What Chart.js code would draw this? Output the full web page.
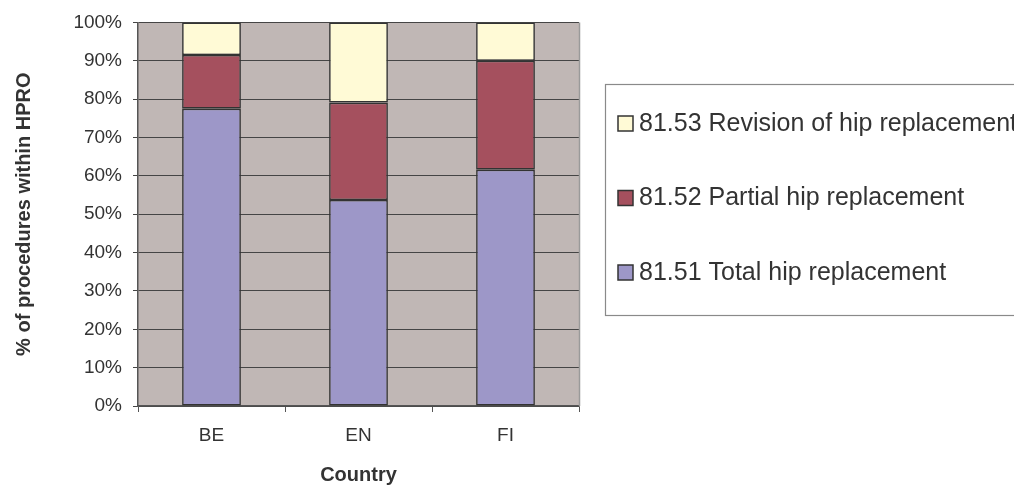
<!DOCTYPE html>
<html>
<head>
<meta charset="utf-8">
<script src="https://cdn.jsdelivr.net/npm/chart.js@4/dist/chart.umd.min.js"></script>
<style>
  html, body { margin: 0; padding: 0; background: #ffffff; }
  #wrap { width: 1014px; height: 488px; position: relative; }
</style>
</head>
<body>
<div id="wrap"><canvas id="chart" width="1014" height="488"></canvas></div>
<script>
// Share of hip procedures by country (percent of all procedures within HPRO)
const countries = ['BE', 'EN', 'FI'];
const totalHip = [77.5, 53.7, 61.6];     // 81.51 Total hip replacement
const partialHip = [14.0, 25.4, 28.4];   // 81.52 Partial hip replacement
const revisionHip = [8.5, 20.9, 10.0];   // 81.53 Revision of hip replacement
const seriesNames = [
  '81.51 Total hip replacement',
  '81.52 Partial hip replacement',
  '81.53 Revision of hip replacement'
];
const yTicks = [0, 10, 20, 30, 40, 50, 60, 70, 80, 90, 100];

const FONT = "'Liberation Sans', Arial, sans-serif";
const TEXT = '#333333';
const EDGE = '#333333';

// Grey plotting area with a light right edge
const plotBackground = {
  id: 'plotBackground',
  beforeDraw(chart) {
    const { ctx, chartArea: a } = chart;
    ctx.save();
    ctx.fillStyle = '#c0b7b5';
    ctx.fillRect(a.left, a.top, a.right - a.left, a.bottom - a.top);
    ctx.restore();
  },
  afterDatasetsDraw(chart) {
    const { ctx, chartArea: a } = chart;
    ctx.save();
    ctx.strokeStyle = '#9a9a9a';
    ctx.lineWidth = 1.5;
    ctx.beginPath();
    ctx.moveTo(a.right + 0.5, a.top);
    ctx.lineTo(a.right + 0.5, a.bottom);
    ctx.stroke();
    ctx.restore();
  }
};

// Boxed legend to the right of the plot, top series listed first
const boxedLegend = {
  id: 'boxedLegend',
  afterDraw(chart) {
    const { ctx } = chart;
    const box = { x: 605.5, y: 84.5, w: 420, h: 231 };
    ctx.save();
    ctx.strokeStyle = '#8a8a8a';
    ctx.lineWidth = 1.2;
    ctx.strokeRect(box.x, box.y, box.w, box.h);
    const rows = [123, 197.5, 272];
    const order = [2, 1, 0];
    ctx.font = '25px ' + FONT;
    ctx.textBaseline = 'middle';
    ctx.textAlign = 'left';
    order.forEach((di, i) => {
      const ds = chart.data.datasets[di];
      const cy = rows[i];
      ctx.fillStyle = ds.backgroundColor;
      ctx.fillRect(618, cy - 7, 15, 15);
      ctx.strokeStyle = EDGE;
      ctx.lineWidth = 1.5;
      ctx.strokeRect(618, cy - 7, 15, 15);
      ctx.fillStyle = TEXT;
      ctx.fillText(ds.label, 639, cy + 1);
    });
    ctx.restore();
  }
};

const barStyle = { borderColor: EDGE, borderWidth: 1.6, borderSkipped: false,
                   barPercentage: 0.4, categoryPercentage: 1.0 };

new Chart(document.getElementById('chart'), {
  type: 'bar',
  data: {
    labels: countries,
    datasets: [
      Object.assign({ label: seriesNames[0], data: totalHip, backgroundColor: '#9d97c8' }, barStyle),
      Object.assign({ label: seriesNames[1], data: partialHip, backgroundColor: '#a5505e' }, barStyle),
      Object.assign({ label: seriesNames[2], data: revisionHip, backgroundColor: '#fffad6' }, barStyle)
    ]
  },
  options: {
    responsive: false,
    animation: false,
    layout: { padding: { left: 0, right: 435, top: 21, bottom: 0 } },
    plugins: {
      legend: { display: false },
      tooltip: { enabled: false }
    },
    scales: {
      x: {
        stacked: true,
        grid: { display: true, drawOnChartArea: false, offset: true,
                color: '#555555', tickLength: 6, lineWidth: 1 },
        border: { color: '#555555', width: 1.5 },
        ticks: { color: TEXT, font: { family: FONT, size: 19 }, padding: 12 },
        title: { display: true, text: 'Country', color: TEXT,
                 font: { family: FONT, size: 20, weight: 'bold' },
                 padding: { top: 0, bottom: 1 } },
        afterFit(scale) { scale.height = 82; }
      },
      y: {
        stacked: true,
        min: 0,
        max: 100,
        afterBuildTicks(scale) { scale.ticks = yTicks.map(v => ({ value: v })); },
        grid: { color: '#454545', lineWidth: 1, tickLength: 5 },
        border: { color: '#555555', width: 1.5 },
        ticks: { color: TEXT, font: { family: FONT, size: 19 }, padding: 11,
                 callback: v => v + '%' },
        title: { display: true, text: '% of procedures within HPRO', color: TEXT,
                 font: { family: FONT, size: 20, weight: 'bold' },
                 padding: { top: 12, bottom: 0 } },
        afterFit(scale) { scale.width = 138; }
      }
    }
  },
  plugins: [plotBackground, boxedLegend]
});
</script>
</body>
</html>
